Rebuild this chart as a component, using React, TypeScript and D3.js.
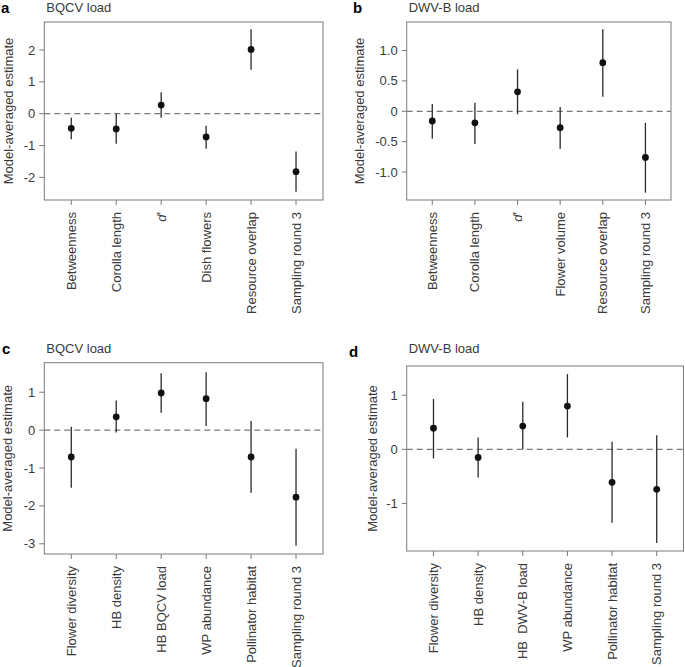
import React from "react";
import { scaleLinear } from "d3";

// panel a: BQCV load
const catsA = ["Betweenness", "Corolla length", "d′", "Dish flowers", "Resource overlap", "Sampling round 3"];
const estA = [-0.46, -0.48, 0.27, -0.73, 2.02, -1.82];
const loA = [-0.8, -0.94, -0.13, -1.1, 1.38, -2.45];
const hiA = [-0.13, 0.0, 0.67, -0.38, 2.65, -1.19];
const ticksA = [-2, -1, 0, 1, 2];

// panel b: DWV-B load
const catsB = ["Betweenness", "Corolla length", "d′", "Flower volume", "Resource overlap", "Sampling round 3"];
const estB = [-0.16, -0.19, 0.32, -0.27, 0.8, -0.76];
const loB = [-0.45, -0.54, -0.05, -0.62, 0.24, -1.34];
const hiB = [0.12, 0.14, 0.69, 0.07, 1.35, -0.19];
const ticksB = [-1.0, -0.5, 0, 0.5, 1.0];

// panel c: BQCV load
const catsC = ["Flower diversity", "HB density", "HB BQCV load", "WP abundance", "Pollinator habitat", "Sampling round 3"];
const estC = [-0.71, 0.35, 0.98, 0.83, -0.71, -1.77];
const loC = [-1.52, -0.06, 0.46, 0.11, -1.65, -3.05];
const hiC = [0.09, 0.78, 1.5, 1.53, 0.24, -0.49];
const ticksC = [-3, -2, -1, 0, 1];

// panel d: DWV-B load
const catsD = ["Flower diversity", "HB density", "HB  DWV-B load", "WP abundance", "Pollinator habitat", "Sampling round 3"];
const estD = [0.39, -0.15, 0.43, 0.8, -0.61, -0.74];
const loD = [-0.17, -0.52, 0.0, 0.22, -1.36, -1.73];
const hiD = [0.93, 0.22, 0.88, 1.39, 0.14, 0.26];
const ticksD = [-1, 0, 1];

const font = "'Liberation Sans', Arial, sans-serif";
const grey = "#7a7a7a";
const textCol = "#3a3a3a";

type PanelProps = {
  letter: string;
  title: string;
  cats: string[];
  est: number[];
  lo: number[];
  hi: number[];
  ticks: number[];
  fmt: (v: number) => string;
  yDomain: [number, number];
  box: { l: number; r: number; t: number; b: number };
  letterPos: [number, number];
  titleY: number;
  ylabX: number;
};

const Panel = (p: PanelProps) => {
  const { box } = p;
  const x = scaleLinear().domain([0.4, 6.6]).range([box.l, box.r]);
  const y = scaleLinear().domain(p.yDomain).range([box.b, box.t]);
  const idx = p.cats.map((_, i) => i + 1);
  return (
    <g fontFamily={font}>
      <text x={p.letterPos[0]} y={p.letterPos[1]} fontSize={15} fontWeight="bold" fill="#000">
        {p.letter}
      </text>
      <text x={box.l + 2} y={p.titleY} fontSize={13} fill={textCol}>
        {p.title}
      </text>
      <text
        transform={`translate(${p.ylabX},${(box.t + box.b) / 2}) rotate(-90)`}
        textAnchor="middle"
        dy="0.35em"
        fontSize={13}
        fill={textCol}
      >
        Model-averaged estimate
      </text>
      {/* y axis */}
      {p.ticks.map((t) => (
        <g key={t}>
          <line x1={box.l - 5} x2={box.l} y1={y(t)} y2={y(t)} stroke={grey} />
          <text x={box.l - 9} y={y(t)} dy="0.35em" textAnchor="end" fontSize={13} fill={textCol}>
            {p.fmt(t)}
          </text>
        </g>
      ))}
      {/* x axis */}
      {idx.map((i, k) => (
        <g key={i}>
          <line x1={x(i)} x2={x(i)} y1={box.b} y2={box.b + 5} stroke={grey} />
          <text
            transform={`translate(${x(i)},${box.b + 12}) rotate(-90)`}
            textAnchor="end"
            dy="0.35em"
            fontSize={13}
            fill={textCol}
            style={{ whiteSpace: "pre" }}
          >
            {p.cats[k] === "d′" ? (
              <>
                <tspan fontStyle="italic">d</tspan>′
              </>
            ) : (
              p.cats[k]
            )}
          </text>
        </g>
      ))}
      <line x1={box.l} x2={box.r} y1={y(0)} y2={y(0)} stroke={grey} strokeWidth={1.2} strokeDasharray="6,4" />
      {idx.map((i, k) => (
        <g key={"e" + i}>
          <line x1={x(i)} x2={x(i)} y1={y(p.lo[k])} y2={y(p.hi[k])} stroke="#2a2a2a" strokeWidth={1.3} />
          <circle cx={x(i)} cy={y(p.est[k])} r={3.4} fill="#111" />
        </g>
      ))}
      <rect x={box.l} y={box.t} width={box.r - box.l} height={box.b - box.t} fill="none" stroke={grey} strokeWidth={1} />
    </g>
  );
};

const intFmt = (v: number) => String(v);
const decFmt = (v: number) => (v === 0 ? "0" : v.toFixed(1));

export default function App() {
  return (
    <svg width={685} height={667} style={{ position: "absolute", left: 0, top: 0, background: "#fff" }}>
      <Panel letter="a" title="BQCV load" cats={catsA} est={estA} lo={loA} hi={hiA} ticks={ticksA} fmt={intFmt}
        yDomain={[-2.71, 2.88]} box={{ l: 44.3, r: 323, t: 22, b: 200 }} letterPos={[1, 13]} titleY={12} ylabX={8} />
      <Panel letter="b" title="DWV-B load" cats={catsB} est={estB} lo={loB} hi={hiB} ticks={ticksB} fmt={decFmt}
        yDomain={[-1.46, 1.47]} box={{ l: 406.7, r: 671, t: 22, b: 200 }} letterPos={[353, 13]} titleY={12} ylabX={359} />
      <Panel letter="c" title="BQCV load" cats={catsC} est={estC} lo={loC} hi={hiC} ticks={ticksC} fmt={intFmt}
        yDomain={[-3.27, 1.78]} box={{ l: 44.3, r: 323, t: 362.7, b: 554 }} letterPos={[2, 354]} titleY={353} ylabX={7.5} />
      <Panel letter="d" title="DWV-B load" cats={catsD} est={estD} lo={loD} hi={hiD} ticks={ticksD} fmt={intFmt}
        yDomain={[-1.88, 1.54]} box={{ l: 406.7, r: 683.5, t: 366, b: 551 }} letterPos={[349, 357]} titleY={353} ylabX={372} />
    </svg>
  );
}
